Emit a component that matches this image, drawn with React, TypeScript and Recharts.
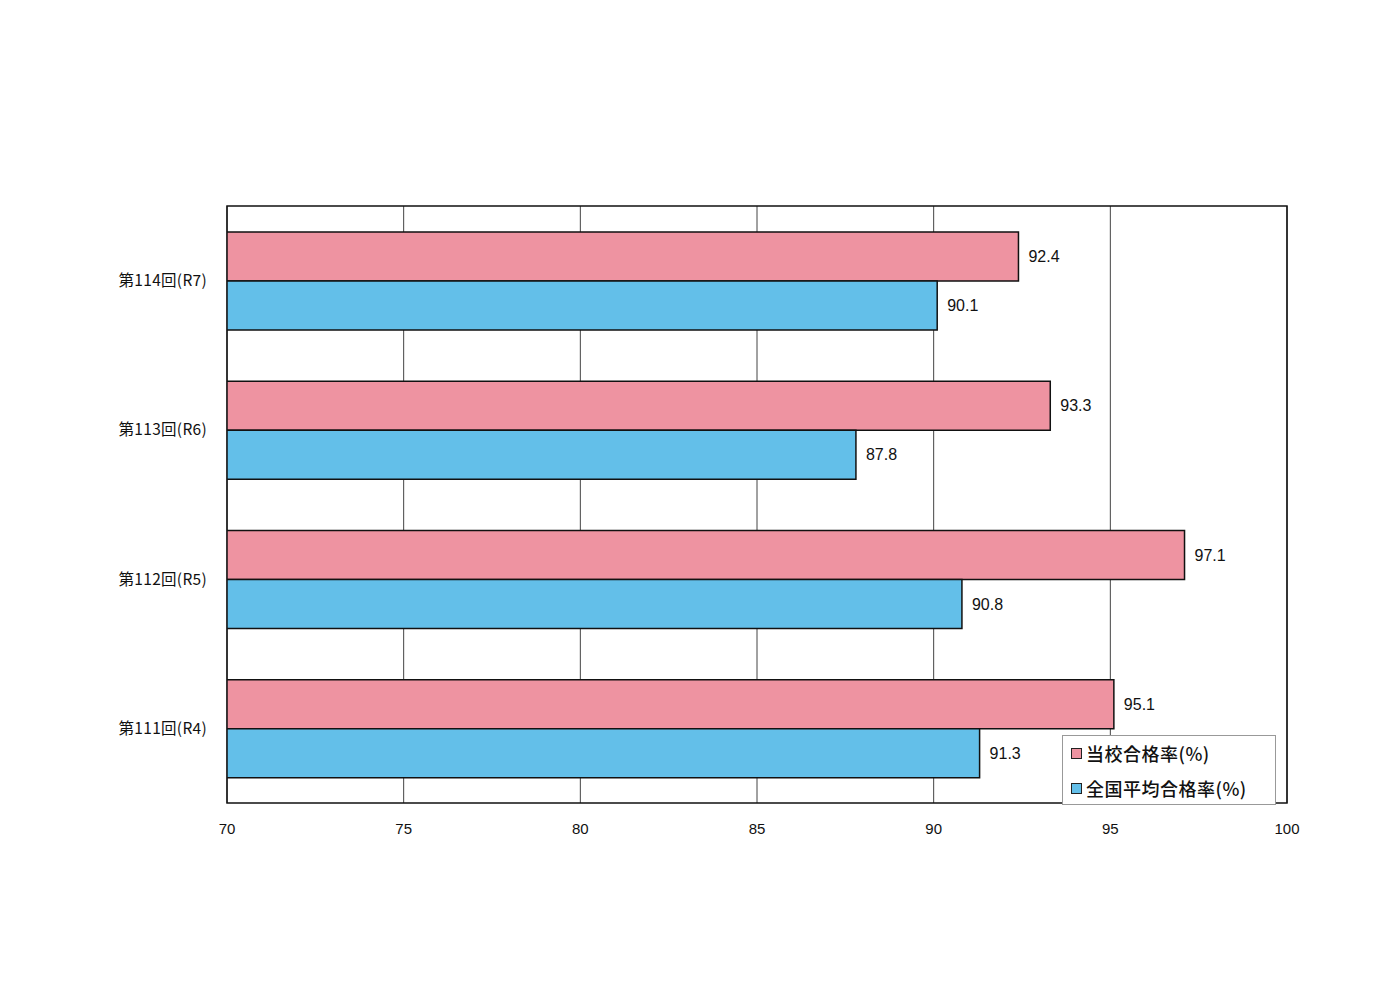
import React from 'react';
import { BarChart, Bar, XAxis, YAxis, CartesianGrid, LabelList, ReferenceArea } from 'recharts';

const categories = ['第114回(R7)', '第113回(R6)', '第112回(R5)', '第111回(R4)'];
const schoolRate = [92.4, 93.3, 97.1, 95.1];
const nationalRate = [90.1, 87.8, 90.8, 91.3];
const xTicks = [70, 75, 80, 85, 90, 95, 100];
const boundaryTicks = [1, 2, 3];

const data = categories.map((name, i) => ({
  name,
  school: schoolRate[i],
  national: nationalRate[i],
}));

const PINK = '#ee93a1';
const BLUE = '#63bfe9';
const FONT = '"Liberation Sans", "Noto Sans CJK JP", sans-serif';

const legendItems = [
  { label: '当校合格率(%)', color: PINK },
  { label: '全国平均合格率(%)', color: BLUE },
];

// legend sits inside the plot, bottom right
const LegendBox = () => (
  <div
    style={{
      position: 'absolute',
      left: 1062,
      top: 735,
      width: 214,
      height: 70,
      boxSizing: 'border-box',
      border: '1px solid #999',
      background: '#fff',
      padding: '0 0 0 8px',
      fontFamily: '"Noto Sans CJK JP", sans-serif',
      fontSize: 18,
      fontWeight: 500,
      color: '#111',
      lineHeight: '35px',
    }}
  >
    {legendItems.map((item) => (
      <div key={item.label} style={{ display: 'flex', alignItems: 'center' }}>
        <span
          style={{
            display: 'inline-block',
            width: 9,
            height: 9,
            background: item.color,
            border: '1px solid #222',
            marginRight: 4,
          }}
        />
        <span style={{ letterSpacing: 0.5 }}>{item.label}</span>
      </div>
    ))}
  </div>
);

export default function App() {
  return (
    <div style={{ position: 'absolute', left: 0, top: 0, width: 1400, height: 990, background: '#fff' }}>
      <BarChart
        width={1400}
        height={990}
        data={data}
        layout="vertical"
        margin={{ top: 206, right: 113, left: 0, bottom: 147 }}
        barGap={0}
      >
        <CartesianGrid horizontal={false} vertical={true} stroke="#444" strokeWidth={1} />
        <XAxis
          type="number"
          domain={[70, 100]}
          ticks={xTicks}
          allowDataOverflow
          height={40}
          axisLine={false}
          tickLine={false}
          tickMargin={14}
          tick={{ fill: '#111', fontSize: 15, fontFamily: FONT }}
        />
        {/* small marks between categories on the left edge */}
        <YAxis
          yAxisId="bounds"
          type="number"
          domain={[0, 4]}
          ticks={boundaryTicks}
          width={0}
          axisLine={false}
          tick={false}
          tickSize={5}
          tickLine={{ stroke: '#222' }}
        />
        <YAxis
          type="category"
          dataKey="name"
          width={227}
          axisLine={false}
          tickLine={false}
          tickMargin={14}
          tick={{ fill: '#111', fontSize: 15.5, fontFamily: '"Noto Sans CJK JP", sans-serif', letterSpacing: 0.3 }}
        />
        <Bar dataKey="school" fill={PINK} stroke="#111" strokeWidth={1.5} barSize={49} isAnimationActive={false}>
          <LabelList dataKey="school" position="right" offset={10} style={{ fill: '#111', fontSize: 16, fontFamily: FONT }} />
        </Bar>
        <Bar dataKey="national" fill={BLUE} stroke="#111" strokeWidth={1.5} barSize={49} isAnimationActive={false}>
          <LabelList dataKey="national" position="right" offset={10} style={{ fill: '#111', fontSize: 16, fontFamily: FONT }} />
        </Bar>
        <ReferenceArea x1={70} x2={100} fill="none" stroke="#111" strokeWidth={1.5} ifOverflow="extendDomain" />
      </BarChart>
      <LegendBox />
    </div>
  );
}
